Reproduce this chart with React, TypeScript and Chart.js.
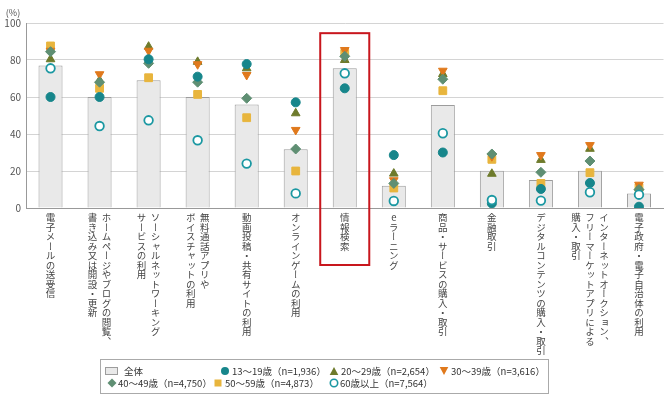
import React, { useEffect, useRef, useState } from "react";
import { Chart, registerables } from "chart.js";
Chart.register(...registerables);

const categories = [
  "電子メールの送受信",
  "ホームページやブログの閲覧、\n書き込み又は開設・更新",
  "ソーシャルネットワーキング\nサービスの利用",
  "無料通話アプリや\nボイスチャットの利用",
  "動画投稿・共有サイトの利用",
  "オンラインゲームの利用",
  "情報検索",
  "eラーニング",
  "商品・サービスの購入・取引",
  "金融取引",
  "デジタルコンテンツの購入・取引",
  "インターネットオークション、\nフリーマーケットアプリによる\n購入・取引",
  "電子政府・電子自治体の利用",
];

const overall = [77, 60, 69, 60, 56, 31.7, 75.5, 12, 55.7, 20.2, 15.1, 20.2, 7.9];
const age13_19 = [60, 60, 80.4, 71, 77.8, 57.1, 64.7, 28.6, 30, 2.5, 10.3, 13.5, 0.7];
const age20_29 = [80.4, 69, 87.2, 79, 75.5, 51.2, 80, 18.6, 72.4, 18.5, 26, 32, 11];
const age30_39 = [85, 72.3, 85, 77.7, 71.9, 42.2, 85.4, 15, 74.2, 28, 28.6, 34, 12.6];
const age40_49 = [84.5, 68, 78.2, 68, 59.3, 31.9, 82, 13.3, 69.6, 29.2, 19.3, 25.4, 10];
const age50_59 = [87.6, 64.7, 70.4, 61.4, 48.8, 20, 83.6, 10.8, 63.4, 26.3, 13.3, 19.1, 11];
const age60plus = [75.5, 44.3, 47.4, 36.6, 24, 7.9, 72.8, 3.8, 40.4, 4.3, 4, 8.5, 7.2];

const legendLabels = [
  "全体",
  "13～19歳（n=1,936）",
  "20～29歳（n=2,654）",
  "30～39歳（n=3,616）",
  "40～49歳（n=4,750）",
  "50～59歳（n=4,873）",
  "60歳以上（n=7,564）",
];

const yMin = 0;
const yMax = 100;
const yStep = 20;
const highlightIndex = 6;

const C_BAR = "#e9e9e9";
const C_BAR_BORDER = "#9c9c9c";
const C_TEEN = "#17868b";
const C_20 = "#6e7b2c";
const C_30 = "#e0791c";
const C_40 = "#5f8f73";
const C_50 = "#e8b53d";
const C_60 = "#1b98a2";
const FONT = "'Noto Sans CJK JP', 'Noto Sans', sans-serif";

const overlayPlugin = {
  id: "overlay",
  afterDatasetsDraw(chart: any) {
    const { ctx, chartArea, scales } = chart;
    const x = scales.x;
    const y = scales.y;
    const xc = x.getPixelForValue(highlightIndex);
    const half = (chartArea.right - chartArea.left) / categories.length / 2;
    const top = y.getPixelForValue(94.5);
    ctx.save();
    ctx.strokeStyle = "#c8161d";
    ctx.lineWidth = 2;
    ctx.strokeRect(xc - half, top, 2 * half, chartArea.bottom + 57 - top);
    ctx.fillStyle = "#555";
    ctx.font = "9px " + FONT;
    ctx.textAlign = "center";
    ctx.textBaseline = "middle";
    ctx.fillText("(%)", chartArea.left - 13, chartArea.top - 10);
    ctx.restore();
  },
};

function pointSet(label: string, data: number[], style: string, color: string, opts: any = {}) {
  return {
    type: "line" as const,
    label,
    data,
    showLine: false,
    pointStyle: style,
    pointRadius: 4.5,
    pointHoverRadius: 4.5,
    pointBackgroundColor: color,
    pointBorderColor: color,
    pointBorderWidth: 1,
    backgroundColor: color,
    borderColor: color,
    ...opts,
  };
}

function Marker({ kind, color }: { kind: string; color: string }) {
  const s = 10;
  let shape: any = null;
  if (kind === "circle") shape = <circle cx={5} cy={5} r={4} fill={color} />;
  if (kind === "hollow") shape = <circle cx={5} cy={5} r={3.7} fill="#fff" stroke={color} strokeWidth={1.6} />;
  if (kind === "up") shape = <polygon points="5,1 9.3,9 0.7,9" fill={color} />;
  if (kind === "down") shape = <polygon points="0.7,1 9.3,1 5,9" fill={color} />;
  if (kind === "diamond") shape = <polygon points="5,0.5 9.5,5 5,9.5 0.5,5" fill={color} />;
  if (kind === "square") shape = <rect x={1.5} y={1.5} width={7} height={7} fill={color} />;
  return (
    <svg width={s} height={s} style={{ display: "block" }}>
      {shape}
    </svg>
  );
}

export default function App() {
  const canvasRef = useRef<HTMLCanvasElement>(null);
  const [labelPos, setLabelPos] = useState<{ xs: number[]; bottom: number } | null>(null);

  useEffect(() => {
    if (!canvasRef.current) return;
    Chart.defaults.font.family = FONT;
    const chart = new Chart(canvasRef.current, {
      type: "bar",
      data: {
        labels: categories,
        datasets: [
          {
            type: "bar",
            label: legendLabels[0],
            data: overall,
            backgroundColor: C_BAR,
            borderColor: C_BAR_BORDER,
            borderWidth: 1,
            barPercentage: 0.49,
            categoryPercentage: 1,
            order: 10,
          } as any,
          pointSet(legendLabels[1], age13_19, "circle", C_TEEN, { order: 1 }),
          pointSet(legendLabels[2], age20_29, "triangle", C_20, { order: 5, pointRadius: 5 }),
          pointSet(legendLabels[3], age30_39, "triangle", C_30, { order: 4, pointRadius: 5, pointRotation: 180 }),
          pointSet(legendLabels[4], age40_49, "rectRot", C_40, { order: 3, pointRadius: 5 }),
          pointSet(legendLabels[5], age50_59, "rect", C_50, { order: 6, pointRadius: 5.5 }),
          pointSet(legendLabels[6], age60plus, "circle", C_60, {
            order: 0,
            pointBackgroundColor: "#ffffff",
            pointBorderWidth: 1.8,
            pointRadius: 4.3,
          }),
        ],
      },
      options: {
        responsive: false,
        animation: false,
        devicePixelRatio: 1,
        layout: { padding: { top: 23, right: 6, left: 0, bottom: 0 } },
        plugins: { legend: { display: false }, tooltip: { enabled: false } },
        scales: {
          x: {
            offset: true,
            grid: { display: false },
            border: { display: true, color: "#999" },
            ticks: { display: false },
            afterFit: (s: any) => {
              s.height = 191;
            },
          },
          y: {
            min: yMin,
            max: yMax,
            ticks: { stepSize: yStep, color: "#555", padding: 5, font: { size: 10, family: FONT } },
            grid: { color: "#d4d4d4", drawTicks: false },
            border: { display: true, color: "#999" },
            afterFit: (s: any) => {
              s.width = 26;
            },
          },
        },
      },
      plugins: [overlayPlugin],
    });
    const xs = categories.map((_, i) => chart.scales.x.getPixelForValue(i));
    setLabelPos({ xs, bottom: chart.chartArea.bottom });
    return () => chart.destroy();
  }, []);

  const legendItems = [
    { row: 0, mx: 0, tx: 23, kind: "bar", color: C_BAR },
    { row: 0, mx: 124, tx: 131, kind: "circle", color: C_TEEN },
    { row: 0, mx: 233, tx: 240, kind: "up", color: C_20 },
    { row: 0, mx: 343, tx: 350, kind: "down", color: C_30 },
    { row: 1, mx: 11, tx: 17, kind: "diamond", color: C_40 },
    { row: 1, mx: 117, tx: 124, kind: "square", color: C_50 },
    { row: 1, mx: 233, tx: 239, kind: "hollow", color: C_60 },
  ];

  return (
    <div style={{ position: "fixed", left: 0, top: 0, width: 670, height: 399, background: "#fff", overflow: "hidden" }}>
      <canvas ref={canvasRef} width={670} height={399} style={{ width: 670, height: 399, display: "block" }} />
      {labelPos &&
        categories.map((c, i) => (
          <div
            key={i}
            style={{
              position: "absolute",
              left: labelPos.xs[i],
              top: labelPos.bottom + 5,
              transform: "translateX(-50%)",
              writingMode: "vertical-rl",
              textOrientation: "upright",
              fontFamily: FONT,
              fontSize: 9.5,
              lineHeight: "14px",
              color: "#444",
              whiteSpace: "pre",
            }}
          >
            {c}
          </div>
        ))}
      <div
        style={{
          position: "absolute",
          left: 100,
          top: 359,
          width: 449,
          height: 35,
          boxSizing: "border-box",
          border: "1px solid #aaa",
          fontFamily: FONT,
          fontSize: 9.5,
          color: "#333",
        }}
      >
        {legendItems.map((it, i) => {
          const cy = it.row === 0 ? 11 : 23;
          return (
            <React.Fragment key={i}>
              {it.kind === "bar" ? (
                <div
                  style={{
                    position: "absolute",
                    left: 4,
                    top: cy - 4,
                    width: 13,
                    height: 8,
                    background: C_BAR,
                    border: "1px solid " + C_BAR_BORDER,
                    boxSizing: "border-box",
                  }}
                />
              ) : (
                <div style={{ position: "absolute", left: it.mx - 5, top: cy - 5 }}>
                  <Marker kind={it.kind} color={it.color} />
                </div>
              )}
              <div style={{ position: "absolute", left: it.tx, top: cy - 7, lineHeight: "14px", whiteSpace: "nowrap" }}>
                {legendLabels[i]}
              </div>
            </React.Fragment>
          );
        })}
      </div>
    </div>
  );
}
